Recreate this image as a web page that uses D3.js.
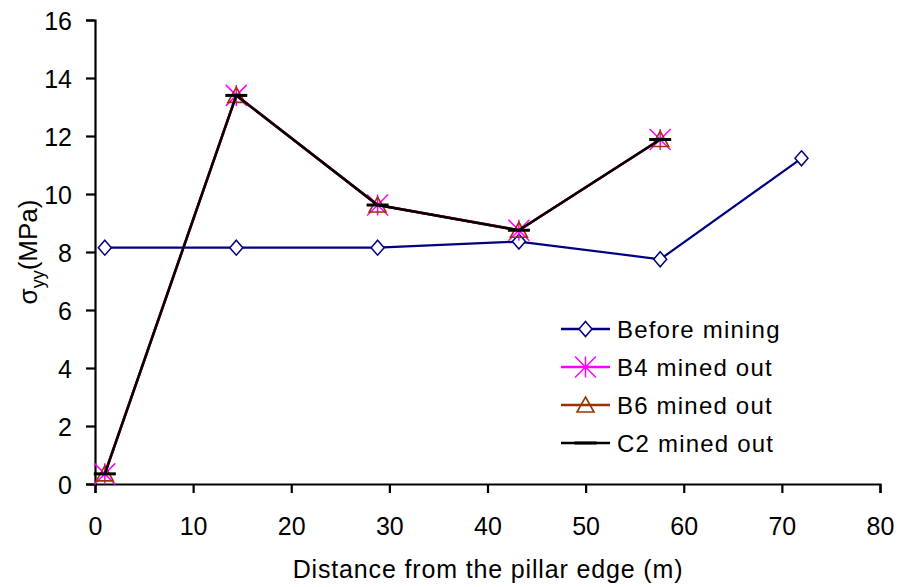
<!DOCTYPE html>
<html>
<head>
<meta charset="utf-8">
<script src="https://cdn.jsdelivr.net/npm/d3@7"></script>
<style>
  html, body { margin: 0; padding: 0; background: #fff; }
  svg { display: block; font-family: Arial, "Liberation Sans", sans-serif; }
</style>
</head>
<body>
<svg id="chart" width="901" height="587"></svg>
<script>
// Distance from pillar edge (m) and vertical stress (MPa)
const distBefore = [1, 14.4, 28.8, 43.2, 57.6, 72];
const before = [8.15, 8.15, 8.15, 8.36, 7.75, 11.23];

const distMined = [1, 14.4, 28.8, 43.2, 57.6];
const b4 = [0.35, 13.4, 9.62, 8.75, 11.88];
const b6 = [0.35, 13.4, 9.62, 8.75, 11.88];
const c2 = [0.35, 13.4, 9.62, 8.75, 11.88];

const xTicks = [0, 10, 20, 30, 40, 50, 60, 70, 80];
const yTicks = [0, 2, 4, 6, 8, 10, 12, 14, 16];

const seriesNames = ["Before mining", "B4 mined out", "B6 mined out", "C2 mined out"];

const svg = d3.select("#chart");
const x = d3.scaleLinear().domain([0, 80]).range([95, 880]);
const y = d3.scaleLinear().domain([0, 16]).range([484, 20]);

// Axes
const xAxis = d3.axisBottom(x).tickValues(xTicks).tickSize(9).tickPadding(24);
const yAxis = d3.axisLeft(y).tickValues(yTicks).tickSize(9).tickPadding(14);

const gx = svg.append("g").attr("transform", "translate(0,484)").call(xAxis);
const gy = svg.append("g").attr("transform", "translate(95,0)").call(yAxis);
[gx, gy].forEach(g => {
  g.selectAll("path.domain").attr("stroke", "#000").attr("stroke-width", 2.2);
  g.selectAll(".tick line").attr("stroke", "#000").attr("stroke-width", 2.2);
  g.selectAll(".tick text").attr("fill", "#000").style("font-size", "25px")
    .style("font-family", "Arial, 'Liberation Sans', sans-serif");
});
gy.selectAll(".tick text").attr("dy", "0.36em");
gx.selectAll(".tick text").attr("dy", "0.71em");

// Axis titles
svg.append("text")
  .attr("x", 488).attr("y", 578)
  .attr("text-anchor", "middle")
  .style("font-size", "25px").style("letter-spacing", "0.85px")
  .text("Distance from the pillar edge (m)");

const yt = svg.append("text")
  .attr("transform", "translate(37,252) rotate(-90)")
  .attr("text-anchor", "middle")
  .style("font-size", "26px");
yt.append("tspan").text("σ");
yt.append("tspan").attr("dy", 7).style("font-size", "18px").text("yy");
yt.append("tspan").attr("dy", -7).text("(MPa)");

const line = d3.line().x(d => x(d[0])).y(d => y(d[1]));
const zip = (a, b) => a.map((v, i) => [v, b[i]]);

const ptsBefore = zip(distBefore, before);
const ptsB4 = zip(distMined, b4);
const ptsB6 = zip(distMined, b6);
const ptsC2 = zip(distMined, c2);

// Marker shapes
function diamond(g, cx, cy) {
  g.append("path")
    .attr("d", `M${cx},${cy - 7.5}L${cx + 6.5},${cy}L${cx},${cy + 7.5}L${cx - 6.5},${cy}Z`)
    .attr("fill", "#fff").attr("stroke", "#000080").attr("stroke-width", 1.5);
}
function star(g, cx, cy) {
  const r = 10.5;
  g.append("path")
    .attr("d", `M${cx - r},${cy - r}L${cx + r},${cy + r}M${cx - r},${cy + r}L${cx + r},${cy - r}M${cx},${cy - r}L${cx},${cy + r}`)
    .attr("stroke", "#ff00ff").attr("stroke-width", 1.5).attr("fill", "none");
}
function triangle(g, cx, cy) {
  g.append("path")
    .attr("d", `M${cx},${cy - 8}L${cx + 8.5},${cy + 7}L${cx - 8.5},${cy + 7}Z`)
    .attr("fill", "none").attr("stroke", "#993300").attr("stroke-width", 1.6);
}
function dash(g, cx, cy) {
  g.append("path")
    .attr("d", `M${cx - 11},${cy}L${cx + 11},${cy}`)
    .attr("stroke", "#000").attr("stroke-width", 3);
}

// Before mining
svg.append("path").datum(ptsBefore).attr("d", line)
  .attr("fill", "none").attr("stroke", "#000080").attr("stroke-width", 2.2);
const gBefore = svg.append("g");
ptsBefore.forEach(p => diamond(gBefore, x(p[0]), y(p[1])));

// B4 mined out
svg.append("path").datum(ptsB4).attr("d", line)
  .attr("fill", "none").attr("stroke", "#ff00ff").attr("stroke-width", 2.6);
const gB4 = svg.append("g");
ptsB4.forEach(p => star(gB4, x(p[0]), y(p[1])));

// B6 mined out
svg.append("path").datum(ptsB6).attr("d", line)
  .attr("fill", "none").attr("stroke", "#993300").attr("stroke-width", 2.6);
const gB6 = svg.append("g");
ptsB6.forEach(p => triangle(gB6, x(p[0]), y(p[1])));

// C2 mined out
svg.append("path").datum(ptsC2).attr("d", line)
  .attr("fill", "none").attr("stroke", "#000").attr("stroke-width", 2.4);
const gC2 = svg.append("g");
ptsC2.forEach(p => dash(gC2, x(p[0]), y(p[1])));

// Legend
const legend = svg.append("g");
const markers = [diamond, star, triangle, dash];
const colors = ["#000080", "#ff00ff", "#993300", "#000"];
seriesNames.forEach((name, i) => {
  const cy = 329 + i * 38;
  legend.append("line").attr("x1", 561).attr("x2", 610).attr("y1", cy).attr("y2", cy)
    .attr("stroke", colors[i]).attr("stroke-width", 2.4);
  markers[i](legend, 585.5, cy);
  legend.append("text").attr("x", 617).attr("y", cy + 8.5)
    .style("font-size", "24px").style("letter-spacing", "1.2px")
    .text(name);
});
</script>
</body>
</html>
